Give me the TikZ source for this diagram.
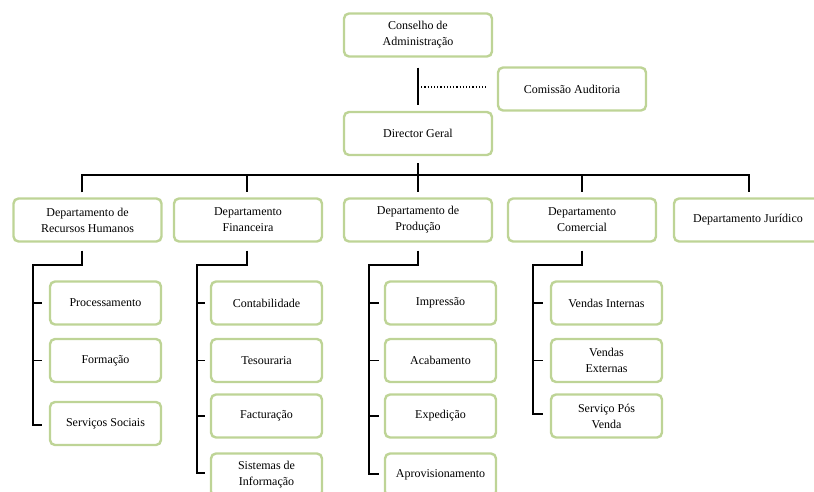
\documentclass[tikz,border=0pt]{standalone}
\usepackage{fontspec}
\setmainfont{Liberation Serif}
\usepackage{tikz}
\usetikzlibrary{calc}

\definecolor{boxgreen}{RGB}{190,212,150}

\tikzset{
  box/.style={draw=boxgreen, line width=2.4pt, rounded corners=5pt, fill=white,
    align=center, font=\fontsize{12}{16}\selectfont, inner sep=2pt},
  deptbox/.style={box, minimum width=148pt, minimum height=43pt},
  subbox/.style={box, minimum width=111pt, minimum height=43pt},
  link/.style={line width=1.6pt, black},
}

\begin{document}
\begin{tikzpicture}[x=1pt,y=-1pt]
    \useasboundingbox (0,0) rectangle (814,491);
    \clip (0,0) rectangle (814,491);
    %%top
    \node[deptbox] (cons) at (418,35) {Conselho de\\Administração};
    \node[deptbox] (comm) at (572,89) {Comissão Auditoria};
    \node[deptbox] (dirg) at (418,133.5) {Director Geral};
    \draw[link] ($(cons.south)+(0,10)$) -- ($(dirg.north)+(0,-6)$);
    \draw[line width=1.2pt, dotted] (418,87) -- ($(comm.west)+(-10,-2)$);
    %%departments
    \node[deptbox] (drh) at (87.5,220) {Departamento de\\Recursos Humanos};
    \node[deptbox] (dfin) at (248,220) {Departamento\\Financeira};
    \node[deptbox] (dprod) at (418,220) {Departamento de\\Produção};
    \node[deptbox] (dcom) at (582,220) {Departamento\\Comercial};
    \node[deptbox] (djur) at (748,220) {Departamento Jurídico};
    \coordinate (bus) at (418,175);
    \draw[link] ($(dirg.south)+(0,7)$) -- (bus);
    \draw[link] ($(drh.north)+(-5.5,-5)$) |- (bus) -| ($(djur.north)+(1,-5)$);
    \foreach \d/\dx in {dfin/-1,dprod/0,dcom/0}
      \draw[link] (bus -| \d.north) ++(\dx,0) -- ($(\d.north)+(\dx,-5)$);
    %%sub units
    \node[subbox] (proc) at (105.5,303) {Processamento};
    \node[subbox] (form) at (105.5,360.5) {Formação};
    \node[subbox] (sers) at (105.5,423.5) {Serviços Sociais};
    \node[subbox] (cont) at (266.5,303) {Contabilidade};
    \node[subbox] (teso) at (266.5,360.5) {Tesouraria};
    \node[subbox] (fact) at (266.5,416) {Facturação};
    \node[subbox] (sinf) at (266.5,475) {Sistemas de\\Informação};
    \node[subbox] (impr) at (440.5,303) {Impressão};
    \node[subbox] (acab) at (440.5,360.5) {Acabamento};
    \node[subbox] (expe) at (440.5,416) {Expedição};
    \node[subbox] (apro) at (440.5,475) {Aprovisionamento};
    \node[subbox] (vint) at (606.5,303) {Vendas Internas};
    \node[subbox] (vext) at (606.5,360.5) {Vendas\\Externas};
    \node[subbox] (spv) at (606.5,416) {Serviço Pós\\Venda};
    %%trunks
    \coordinate (trh) at (33,265);
    \coordinate (tfin) at (197,265);
    \coordinate (tprod) at (369,265);
    \coordinate (tcom) at (533,265);
    \draw[link] ($(drh.south)+(-5.5,8)$) |- (trh) |- ($(sers.west)+(-7,1.5)$);
    \draw[link] ($(dfin.south)+(-1,8)$) |- (tfin) |- ($(sinf.west)+(-5,-2)$);
    \draw[link] ($(dprod.south)+(0,8)$) |- (tprod) |- ($(apro.west)+(-5,-1)$);
    \draw[link] ($(dcom.south)+(0,8)$) |- (tcom) |- ($(spv.west)+(-7,-2)$);
    \foreach \s in {proc,form} \draw[link] (trh |- \s.west) -- ($(\s.west)+(-7,0)$);
    \foreach \s in {cont,teso,fact} \draw[link] (tfin |- \s.west) -- ($(\s.west)+(-5,0)$);
    \foreach \s in {impr,acab,expe} \draw[link] (tprod |- \s.west) -- ($(\s.west)+(-5,0)$);
    \foreach \s in {vint,vext} \draw[link] (tcom |- \s.west) -- ($(\s.west)+(-7,0)$);
\end{tikzpicture}
\end{document}
